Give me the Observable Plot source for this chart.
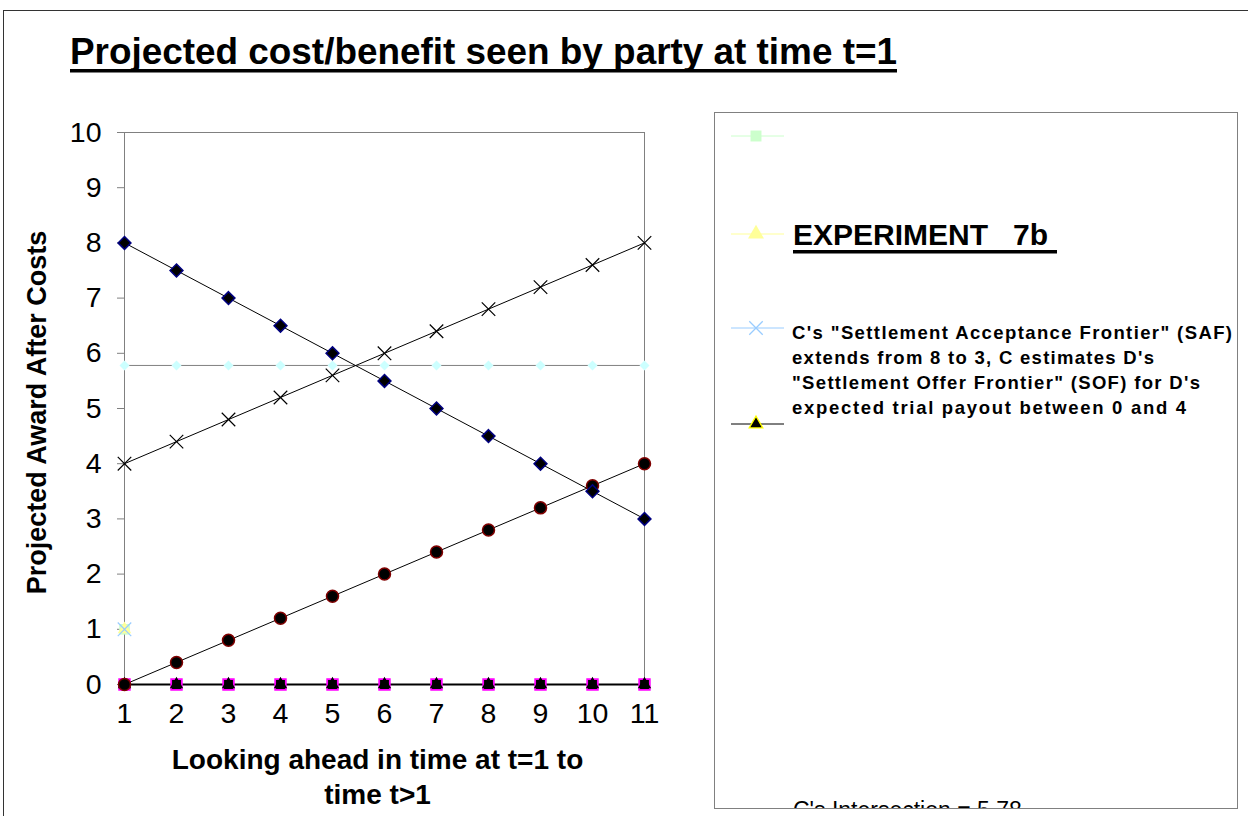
<!DOCTYPE html>
<html>
<head>
<meta charset="utf-8">
<script src="https://cdn.jsdelivr.net/npm/d3@7"></script>
<script src="https://cdn.jsdelivr.net/npm/@observablehq/plot@0.6"></script>
<style>
  html, body { margin: 0; padding: 0; background: white; }
  #root { position: relative; width: 1248px; height: 816px; overflow: hidden; background: white;
          font-family: Arial, "Liberation Sans", sans-serif; }
  #frame { position: absolute; left: 3px; top: 10px; width: 1300px; height: 900px;
           border-left: 1px solid #333; border-top: 1px solid #333; }
  #chart { position: absolute; left: 0; top: 0; }
  #title { position: absolute; left: 0; top: 0; }
  #legend { position: absolute; left: 714px; top: 112px; width: 522px; height: 695px;
            border: 1px solid #808080; overflow: hidden; background: white; }
</style>
</head>
<body>
<div id="root">
  <div id="frame"></div>
  <div id="chart"></div>
  <svg id="title" width="1248" height="110"></svg>
  <div id="legend"></div>
</div>
<script>
// ---- data ----
const xs = [1, 2, 3, 4, 5, 6, 7, 8, 9, 10, 11];
const yTicks = [0, 1, 2, 3, 4, 5, 6, 7, 8, 9, 10];
const safFrontier = [8, 7.5, 7, 6.5, 6, 5.5, 5, 4.5, 4, 3.5, 3];          // navy diamonds
const sofFrontier = [4, 4.4, 4.8, 5.2, 5.6, 6, 6.4, 6.8, 7.2, 7.6, 8];    // black crosses
const trialPayout = [0, 0.4, 0.8, 1.2, 1.6, 2, 2.4, 2.8, 3.2, 3.6, 4];    // black circles
const intersection = [5.78, 5.78, 5.78, 5.78, 5.78, 5.78, 5.78, 5.78, 5.78, 5.78, 5.78]; // cyan diamonds
const zeroSquares = [0, 0, 0, 0, 0, 0, 0, 0, 0, 0, 0];                    // magenta squares
const zeroTriangles = [0, 0, 0, 0, 0, 0, 0, 0, 0, 0, 0];                  // black triangles
const singleX = [1];
const greenSquare = [1];
const yellowTriangle = [1];
const blueCross = [1];

const titleText = "Projected cost/benefit seen by party at time t=1";
const yLabel = "Projected Award After Costs";
const xLabel = ["Looking ahead in time at t=1 to", "time t>1"];
const legendExperiment = "EXPERIMENT   7b";
const legendSAF = [
  "C's \"Settlement Acceptance Frontier\" (SAF)",
  "extends from 8 to 3, C estimates D's",
  "\"Settlement Offer Frontier\" (SOF) for D's",
  "expected trial payout between 0 and 4"
];
const legendIntersection = "C's Intersection = 5.78";

// ---- chart ----
const rows = xs.map((x, i) => ({
  x, saf: safFrontier[i], sof: sofFrontier[i], trial: trialPayout[i],
  inter: intersection[i], sq: zeroSquares[i], tri: zeroTriangles[i]
}));
const singles = singleX.map((x, i) => ({x, g: greenSquare[i], yl: yellowTriangle[i], b: blueCross[i]}));

const chart = Plot.plot({
  width: 700, height: 816,
  marginLeft: 124, marginRight: 56, marginTop: 132, marginBottom: 132,
  style: {fontFamily: "Arial, 'Liberation Sans', sans-serif", background: "transparent", color: "black", overflow: "visible"},
  x: {type: "linear", domain: [1, 11]},
  y: {type: "linear", domain: [0, 10]},
  marks: [
    Plot.ruleY([10], {stroke: "#808080"}),
    Plot.ruleX([11], {stroke: "#808080"}),
    Plot.axisY({ticks: yTicks, tickSize: 7, tickPadding: 16, fontSize: 28.5, stroke: "#808080", fill: "black",
                label: null, tickFormat: d => String(d)}),
    Plot.axisX({ticks: xs, tickSize: 6, tickPadding: 12, fontSize: 28.5, stroke: "#808080", fill: "black",
                label: null, tickFormat: d => String(d)}),
    Plot.ruleX([1], {stroke: "#808080"}),
    Plot.line(rows, {x: "x", y: "inter", stroke: "#808080", strokeWidth: 1}),
    Plot.line(rows, {x: "x", y: "saf", stroke: "black", strokeWidth: 1}),
    Plot.line(rows, {x: "x", y: "sof", stroke: "black", strokeWidth: 1}),
    Plot.line(rows, {x: "x", y: "trial", stroke: "black", strokeWidth: 1}),
    Plot.line(rows, {x: "x", y: "sq", stroke: "black", strokeWidth: 2}),
    Plot.dot(rows, {x: "x", y: "inter", symbol: "diamond2", r: 4.5, fill: "#ccffff"}),
    Plot.dot(rows, {x: "x", y: "sq", symbol: "square", r: 6, fill: "black", stroke: "#ff00ff", strokeWidth: 1.8}),
    Plot.dot(rows, {x: "x", y: "tri", symbol: "triangle", r: 4, fill: "black", stroke: "black"}),
    Plot.dot(singles, {x: "x", y: "g", symbol: "square", r: 6, fill: "#ccffcc"}),
    Plot.dot(singles, {x: "x", y: "yl", symbol: "triangle", r: 5, fill: "#ffff99"}),
    Plot.dot(singles, {x: "x", y: "b", symbol: "times", r: 6.2, stroke: "#99ccff", strokeWidth: 1.2}),
    Plot.dot(rows, {x: "x", y: "trial", r: 6, fill: "black", stroke: "#800000", strokeWidth: 1.5}),
    Plot.dot(rows, {x: "x", y: "saf", symbol: "diamond2", r: 5.8, fill: "black", stroke: "#000080", strokeWidth: 1.5}),
    Plot.dot(rows, {x: "x", y: "sof", symbol: "times", r: 6.2, stroke: "black", strokeWidth: 1.2}),
    Plot.text([yLabel], {frameAnchor: "left", textAnchor: "middle", dx: -87, dy: 4, rotate: -90,
                         fontSize: 27, fontWeight: "bold", fill: "black"}),
    Plot.text([xLabel.join("\n")], {frameAnchor: "bottom", dx: -7, dy: 60, lineAnchor: "top", lineHeight: 1.25,
                                    fontSize: 28, fontWeight: "bold", fill: "black"})
  ]
});
document.getElementById("chart").appendChild(chart);

// ---- title ----
const tsvg = d3.select("#title");
tsvg.append("text")
  .attr("x", 70).attr("y", 64)
  .attr("font-size", 37).attr("font-weight", "bold")
  .attr("font-family", "'Liberation Sans Narrow', Arial, 'Liberation Sans', sans-serif")
  .attr("textLength", 827).attr("lengthAdjust", "spacingAndGlyphs")
  .attr("fill", "black")
  .text(titleText);
tsvg.append("rect").attr("x", 70).attr("y", 69).attr("width", 827).attr("height", 3.5).attr("fill", "black");

// ---- legend ----
const lsvg = d3.select("#legend").append("svg").attr("width", 522).attr("height", 695)
  .style("font-family", "Arial, 'Liberation Sans', sans-serif");
function legendKey(y, lineColor, symbol, fill, stroke, size) {
  lsvg.append("line").attr("x1", 16).attr("x2", 69).attr("y1", y).attr("y2", y).attr("stroke", lineColor).attr("stroke-width", 1);
  lsvg.append("path").attr("transform", `translate(41,${y})`)
    .attr("d", d3.symbol(symbol, size)())
    .attr("fill", fill).attr("stroke", stroke).attr("stroke-width", 1.3);
}
legendKey(23, "#ccffcc", d3.symbolSquare, "#ccffcc", "none", 120);
legendKey(121, "#ffff99", d3.symbolTriangle, "#ffff99", "none", 110);
legendKey(215, "#99ccff", d3.symbolTimes, "none", "#99ccff", 120);
legendKey(311, "black", d3.symbolTriangle, "black", "#ffff00", 80);
legendKey(700, "none", d3.symbolDiamond2, "#ccffff", "none", 70);

lsvg.append("text").attr("x", 78).attr("y", 132)
  .attr("font-size", 30).attr("font-weight", "bold").attr("fill", "black")
  .attr("xml:space", "preserve").style("white-space", "pre")
  .text(legendExperiment);
lsvg.append("rect").attr("x", 78).attr("y", 137).attr("width", 264).attr("height", 3.5).attr("fill", "black");

const safWidths = [440, 362, 408, 394];
legendSAF.forEach((line, i) => {
  lsvg.append("text").attr("x", 77).attr("y", 226 + i * 25)
    .attr("font-size", 18.5).attr("font-weight", "bold").attr("fill", "black")
    .attr("textLength", safWidths[i]).attr("lengthAdjust", "spacing")
    .text(line);
});
lsvg.append("text").attr("x", 78).attr("y", 705)
  .attr("font-size", 23).attr("fill", "black")
  .text(legendIntersection);
</script>
</body>
</html>
